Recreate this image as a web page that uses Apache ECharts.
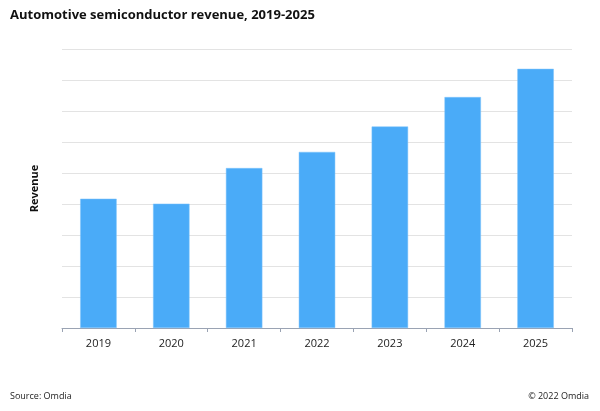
<!DOCTYPE html>
<html>
<head>
<meta charset="utf-8">
<script src="https://cdn.jsdelivr.net/npm/echarts@6/dist/echarts.min.js"></script>
<style>
  html, body { margin: 0; padding: 0; background: #fff; }
  #chart { width: 600px; height: 411px; }
</style>
</head>
<body>
<div id="chart"></div>
<script>
// Values, in gridline units (no y labels in the source)
const years = ['2019', '2020', '2021', '2022', '2023', '2024', '2025'];
const revenue = [4.17, 4.01, 5.16, 5.68, 6.5, 7.45, 8.36];

const chart = echarts.init(document.getElementById('chart'), null, { renderer: 'canvas' });
const font = '"Open Sans", "Liberation Sans", sans-serif';

chart.setOption({
    backgroundColor: '#fff',
    animation: false,
    title: [
        {
            text: 'Automotive semiconductor revenue, 2019-2025',
            left: 10, top: 9, padding: 0,
            textStyle: { fontFamily: font, fontSize: 13, fontWeight: 'bold', color: '#111' }
        },
        {
            text: 'Source: Omdia', left: 10, top: 392, padding: 0,
            textStyle: { fontFamily: font, fontSize: 9, fontWeight: 'normal', color: '#222' }
        },
        {
            text: '© 2022 Omdia', right: 11, top: 392, padding: 0,
            textStyle: { fontFamily: font, fontSize: 9, fontWeight: 'normal', color: '#222' }
        }
    ],
    grid: { left: 62, right: 28, top: 49, bottom: 83 },
    xAxis: {
        type: 'category',
        data: years,
        axisLine: { lineStyle: { color: '#9aa3b3', width: 1 } },
        axisTick: { show: true, length: 4, lineStyle: { color: '#9aa3b3' } },
        axisLabel: { color: '#222', fontFamily: font, fontSize: 11, margin: 10 }
    },
    yAxis: {
        type: 'value',
        min: 0, max: 9, interval: 1,
        name: 'Revenue',
        nameLocation: 'middle',
        nameGap: 22,
        nameRotate: 90,
        nameTextStyle: { fontFamily: font, fontSize: 11, fontWeight: 'bold', color: '#111' },
        axisLabel: { show: false },
        axisLine: { show: false },
        axisTick: { show: false },
        splitLine: { lineStyle: { color: '#e3e3e3', width: 1 } }
    },
    series: [{
        type: 'bar',
        data: revenue,
        barWidth: '50%',
        itemStyle: { color: '#4aabf8', borderColor: '#7cc2fa', borderWidth: 0.5 }
    }]
});
</script>
</body>
</html>
